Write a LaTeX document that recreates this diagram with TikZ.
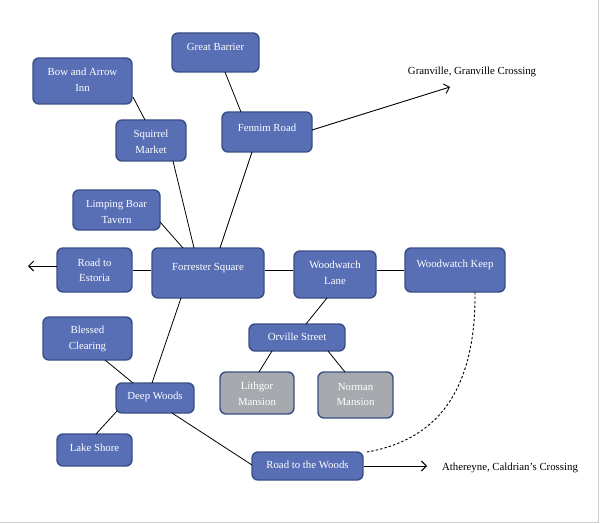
\documentclass[tikz,border=0pt]{standalone}
\usepackage{fontspec}
\setmainfont{Liberation Serif}
\usetikzlibrary{calc,arrows.meta}
\definecolor{boxfill}{RGB}{88,111,181}
\definecolor{boxline}{RGB}{58,78,134}
\definecolor{grayfill}{RGB}{166,170,174}
\definecolor{framegray}{RGB}{205,205,205}
\tikzset{
  box/.style={draw=boxline, fill=boxfill, line width=1.4pt, rounded corners=6pt, inner sep=0pt},
  graybox/.style={box, fill=grayfill},
  txt/.style={text=white, align=center, font=\fontsize{10.8}{15.5}\selectfont, inner sep=0pt},
  plain/.style={text=black, font=\fontsize{10.8}{13}\selectfont, inner sep=0pt},
  edge/.style={draw=black, line width=0.8pt},
  arr/.style={draw=black, line width=0.9pt, -{Straight Barb[length=5pt,width=10pt]}},
  dashline/.style={draw=black, line width=0.9pt, dash pattern=on 2.5pt off 2pt}
}
\begin{document}
\begin{tikzpicture}[x=1pt,y=-1pt]
\useasboundingbox (0,0) rectangle (600,524);
\draw[framegray, line width=1pt] (598.5,0) -- (598.5,522.5) -- (0,522.5);

% boxes
\node[box, minimum width=87, minimum height=39] (gb) at (215.5,52.5) {};
\node[box, minimum width=99, minimum height=46] (bow) at (82.5,81) {};
\node[box, minimum width=70, minimum height=41] (sq) at (151,140.5) {};
\node[box, minimum width=90, minimum height=40] (fen) at (267,132) {};
\node[box, minimum width=87, minimum height=40] (lb) at (116.5,210) {};
\node[box, minimum width=75, minimum height=44] (est) at (94.5,270) {};
\node[box, minimum width=112, minimum height=50] (fs) at (208,273) {};
\node[box, minimum width=82, minimum height=47] (wl) at (335,274.5) {};
\node[box, minimum width=100, minimum height=44] (wk) at (455,270) {};
\node[box, minimum width=96, minimum height=27] (os) at (297,337.5) {};
\node[graybox, minimum width=74, minimum height=42] (lm) at (257,393) {};
\node[graybox, minimum width=75, minimum height=46] (nm) at (355.5,395) {};
\node[box, minimum width=89, minimum height=43] (bc) at (87.5,338.5) {};
\node[box, minimum width=78, minimum height=30] (dw) at (155,398) {};
\node[box, minimum width=75, minimum height=32] (ls) at (94.5,450) {};
\node[box, minimum width=111, minimum height=28] (rw) at (307.5,466) {};

% texts
\node[txt] (gbt) at (215.5,47) {Great Barrier};
\node[txt] (bowt) at (82.5,80) {Bow and Arrow\\Inn};
\node[txt] (sqt) at (151,142) {Squirrel\\Market};
\node[txt] (fent) at (267,128) {Fennim Road};
\node[txt] (lbt) at (116.5,212) {Limping Boar\\Tavern};
\node[txt] (estt) at (94.5,270.5) {Road to\\Estoria};
\node[txt] (fst) at (208,268) {Forrester Square};
\node[txt] (wlt) at (335,273) {Woodwatch\\Lane};
\node[txt] (wkt) at (455,265) {Woodwatch Keep};
\node[txt] (ost) at (297,337) {Orville Street};
\node[txt] (lmt) at (257,394) {Lithgor\\Mansion};
\node[txt] (nmt) at (355.5,394.5) {Norman\\Mansion};
\node[txt] (bct) at (87.5,339) {Blessed\\Clearing};
\node[txt] (dwt) at (155,397) {Deep Woods};
\node[txt] (lst) at (94.5,448) {Lake Shore};
\node[txt] (rwt) at (307.5,465) {Road to the Woods};

\node[plain] (gran) at (472,72) {Granville, Granville Crossing};
\node[plain] (ath) at (510,468) {Athereyne, Caldrian's Crossing};

\coordinate (gtip) at (450,87);
\coordinate (atip) at (427,466);
\coordinate (etip) at (28,266);

% edges
\draw[edge] ($(bow)+(50.5,16)$) -- ($(sq)+(-6,-20.5)$);
\draw[edge] ($(sq)+(22,20.5)$) -- ($(fs)+(-14,-25)$);
\draw[edge] ($(fen)+(-15,20)$) -- ($(fs)+(12,-25)$);
\draw[edge] ($(gb)+(9.5,19.5)$) -- ($(fen)+(-26,-20)$);
\draw[edge] ($(lb)+(43.5,12)$) -- ($(fs)+(-25,-25)$);
\draw[edge] (est.east) -- (est.east -| fs.west);
\draw[edge] ($(fs.east)+(0,-3)$) -- ($(wl.west)+(0,-4.5)$);
\draw[edge] (wk.west -| wl.east) -- (wk.west);
\draw[edge] ($(wl)+(-8,23.5)$) -- ($(os)+(9,-13.5)$);
\draw[edge] ($(os)+(-25,13.5)$) -- ($(lm)+(2,-21)$);
\draw[edge] ($(os)+(31,13.5)$) -- ($(nm)+(-10.5,-23)$);
\draw[edge] ($(fs)+(-27,25)$) -- ($(dw)+(-3,-15)$);
\draw[edge] ($(bc)+(17.5,21.5)$) -- ($(dw)+(-22,-15)$);
\draw[edge] ($(dw)+(-38,13)$) -- ($(ls)+(1.5,-16)$);
\draw[edge] ($(dw)+(17,15)$) -- ($(rw)+(-55.5,-1)$);

\draw[arr] ($(fen)+(45,-2)$) -- (gtip);
\draw[arr] (rw.east) -- (atip);
\draw[arr] ($(est)+(-37.5,-4)$) -- (etip);

\draw[dashline] ($(wk)+(20,22)$) .. controls (476,392) and (436,440) .. ($(rw)+(59.5,-14)$);
\end{tikzpicture}
\end{document}
